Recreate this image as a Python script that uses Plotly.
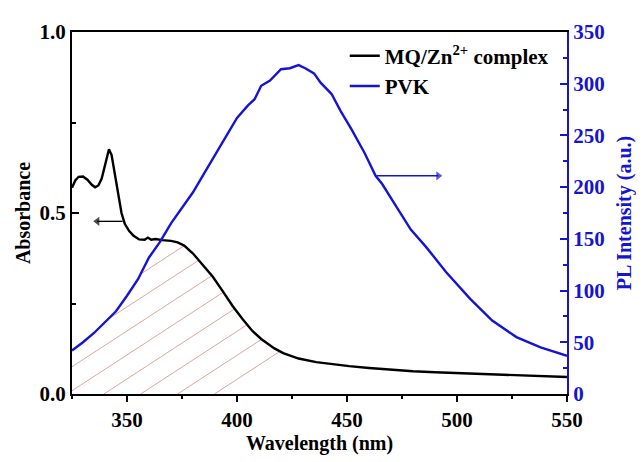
import numpy as np
import plotly.graph_objects as go

# ---------------- data ----------------
wl_abs = [325, 326.5, 328, 330, 332, 334, 335.5, 337, 338.5, 340, 341.8, 343, 344.5, 346,
          347.5, 349, 351, 353, 355.5, 358, 359.5, 361, 363, 366, 370, 373, 376, 380,
          384.5, 389, 393.5, 398, 402.5, 407, 411, 414, 417, 421, 428, 436, 443, 451,
          460, 470, 480, 490, 500, 510, 520, 530, 536, 540, 545, 550]
absorbance = [0.570, 0.590, 0.600, 0.601, 0.592, 0.578, 0.571, 0.576, 0.595, 0.635, 0.676,
              0.660, 0.610, 0.550, 0.500, 0.470, 0.450, 0.437, 0.427, 0.426, 0.432, 0.426,
              0.428, 0.425, 0.423, 0.419, 0.410, 0.388, 0.357, 0.324, 0.284, 0.243, 0.207,
              0.174, 0.152, 0.139, 0.126, 0.113, 0.098, 0.088, 0.082, 0.077, 0.072, 0.067,
              0.063, 0.060, 0.058, 0.056, 0.054, 0.051, 0.049, 0.050, 0.048, 0.047]

wl_pl = [325, 330, 335, 340, 345, 350, 355, 360, 365, 370, 375, 380, 385, 390, 395, 400,
         405, 408, 411, 415, 420, 424, 428, 431, 435, 438, 443, 447, 452, 458, 463, 466,
         471, 479, 486, 495, 506, 516, 527, 538, 550]
pl_intensity = [42, 50, 59, 69, 80, 95, 111, 132, 147, 165, 180, 195, 213, 231, 249, 267,
                279, 285, 298, 303, 314, 315, 318, 315, 310, 301, 290, 274, 256, 233, 211,
                203, 186, 159, 142, 118, 92, 71, 55, 45, 37]

x_tick_vals = [350, 400, 450, 500, 550]
y_tick_vals = [0, 0.5, 1.0]
y_tick_text = ["0.0", "0.5", "1.0"]
y2_tick_vals = [0, 50, 100, 150, 200, 250, 300, 350]

series_names = ["MQ/Zn<sup>2+</sup> complex", "PVK"]

X_RANGE = [325, 550]
Y_RANGE = [0, 1]
Y2_RANGE = [0, 350]

# ---------------- hatching of the spectral overlap ----------------
W_PX, H_PX = 497, 374          # plot area size (style)
HATCH_SLOPE, HATCH_STEP, HATCH_OFF = 0.67, 37, -5
grid = np.linspace(325, 419, 1500)
top_norm = np.minimum(np.interp(grid, wl_abs, absorbance),
                      np.interp(grid, wl_pl, pl_intensity) / Y2_RANGE[1])
u = (grid - X_RANGE[0]) / (X_RANGE[1] - X_RANGE[0]) * W_PX
top_px = top_norm * H_PX
hx, hy = [], []
for k in range(-6, 5):
    u0 = HATCH_OFF + HATCH_STEP * k
    v = HATCH_SLOPE * (u - u0)
    mask = (v >= 0) & (v <= top_px)
    idx = np.where(mask)[0]
    if len(idx) == 0:
        continue
    runs = np.split(idx, np.where(np.diff(idx) > 1)[0] + 1)
    for r in runs:
        if len(r) < 2:
            continue
        hx += [grid[r[0]], grid[r[-1]], None]
        hy += [v[r[0]] / H_PX, v[r[-1]] / H_PX, None]

FONT = "Liberation Serif"
BLUE = "#1414d2"

fig = go.Figure()
fig.add_trace(go.Scatter(x=hx, y=hy, mode="lines", showlegend=False, hoverinfo="skip",
                         line=dict(color="rgba(205,110,110,0.8)", width=0.8)))
fig.add_trace(go.Scatter(x=wl_abs, y=absorbance, mode="lines", name=series_names[0],
                         line=dict(color="black", width=2.4)))
fig.add_trace(go.Scatter(x=wl_pl, y=pl_intensity, mode="lines", name=series_names[1],
                         yaxis="y2", line=dict(color=BLUE, width=2.4)))

# arrows indicating which axis each curve belongs to (tail -> head)
black_arrow_x, black_arrow_y = [348, 336.5], [0.477, 0.477]
blue_arrow_x, blue_arrow_y = [463.5, 491.5], [211, 211]
fig.add_trace(go.Scatter(x=black_arrow_x, y=black_arrow_y, mode="lines+markers",
                         showlegend=False, hoverinfo="skip",
                         line=dict(color="black", width=1.3),
                         marker=dict(symbol=["circle", "triangle-left"], size=[0, 8],
                                     color="black", line=dict(width=0))))
fig.add_trace(go.Scatter(x=blue_arrow_x, y=blue_arrow_y, mode="lines+markers", yaxis="y2",
                         showlegend=False, hoverinfo="skip",
                         line=dict(color=BLUE, width=1.3),
                         marker=dict(symbol=["circle", "triangle-right"], size=[0, 8],
                                     color=BLUE, line=dict(width=0))))

tick_font = dict(family=FONT, size=21, color="black", weight="bold")
title_font = dict(family=FONT, size=20, color="black", weight="bold")

# page body adds 8px offset: figure is sized to fit the 644x462 window
fig.update_layout(
    width=636, height=454,
    margin=dict(l=64, r=75, t=17, b=59),
    plot_bgcolor="white", paper_bgcolor="white",
    showlegend=True,
    legend=dict(x=0.551, y=0.99, xanchor="left", yanchor="top",
                bgcolor="rgba(0,0,0,0)", tracegroupgap=0,
                font=dict(family=FONT, size=21, color="black", weight="bold")),
    xaxis=dict(range=X_RANGE, tickvals=x_tick_vals, ticks="outside", ticklen=6,
               tickwidth=1.5, tickcolor="black", showline=True, linecolor="black",
               linewidth=2, mirror=True, showgrid=False, zeroline=False,
               tickfont=tick_font,
               minor=dict(dtick=25, tick0=325, ticks="outside", ticklen=3, tickcolor="black"),
               title=dict(text="Wavelength (nm)", font=title_font, standoff=4)),
    yaxis=dict(range=Y_RANGE, tickvals=y_tick_vals, ticktext=y_tick_text, ticks="inside",
               ticklen=7, tickwidth=1.5, tickcolor="black", showline=True,
               linecolor="black", linewidth=2, showgrid=False, zeroline=False,
               tickfont=tick_font,
               minor=dict(tickvals=[0.25, 0.75], ticks="inside", ticklen=4, tickcolor="black"),
               title=dict(text="Absorbance", font=title_font, standoff=4)),
    yaxis2=dict(range=Y2_RANGE, tickvals=y2_tick_vals, overlaying="y", side="right",
                ticks="inside", ticklen=7, tickwidth=1.5, tickcolor=BLUE, showline=True,
                linecolor=BLUE, linewidth=2, showgrid=False, zeroline=False,
                tickfont=dict(family=FONT, size=21, color=BLUE, weight="bold"),
                minor=dict(dtick=25, ticks="inside", ticklen=4, tickcolor=BLUE),
                title=dict(text="PL Intensity (a.u.)",
                           font=dict(family=FONT, size=20, color=BLUE, weight="bold"),
                           standoff=13)),
)

fig.write_html("out.html")
